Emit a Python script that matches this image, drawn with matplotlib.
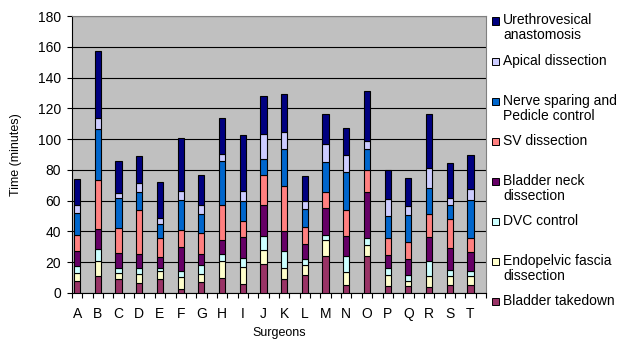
import matplotlib
matplotlib.use("Agg")
import matplotlib.pyplot as plt
from matplotlib.patches import Rectangle
import numpy as np

plt.rcParams['font.family'] = ['Liberation Sans', 'DejaVu Sans']

surgeons = list("ABCDEFGHIJKLMNOPQRST")

# Minutes spent in each operative step, per surgeon (bottom to top of the stack)
bladder_takedown = [7.5, 11, 9, 6.5, 9, 2.5, 7, 10, 6, 19, 9, 12, 24, 5.5, 24, 4.5, 4.5, 4, 5.5, 5]
endopelvic_fascia = [5.5, 10, 4, 6, 5.5, 8, 5.5, 10.5, 11, 9, 7.5, 6.5, 10.5, 8, 7, 7, 3.5, 7, 5.5, 6]
dvc_control = [4.5, 7.5, 3, 4, 2, 3.5, 5.5, 5, 6, 9, 10.5, 3.5, 3, 10.5, 4.5, 4.5, 3.5, 10, 4, 3.5]
bladder_neck = [10, 13, 10, 9, 7, 16, 7.5, 9, 13.5, 20.5, 13, 10, 18, 13, 30, 9, 10.5, 15.5, 14, 12]
sv_dissection = [10.5, 32, 16.5, 28.5, 12.5, 11, 13.5, 23, 10.5, 19.5, 29.5, 11, 10, 17, 14.5, 11, 11, 15, 19, 9]
nerve_sparing = [14, 33, 19, 11.5, 9, 19.5, 12.5, 28, 12.5, 10, 24, 11.5, 19.5, 24.5, 13.5, 14, 17.5, 16.5, 9.5, 25]
apical_dissection = [5, 7, 3.5, 6, 4, 5.5, 5.5, 5, 7, 16.5, 11, 5, 12, 11, 5, 11, 6, 13.5, 4.5, 7]
urethrovesical = [17, 43.5, 20.5, 17.5, 23, 35, 19.5, 23, 36, 24.5, 24.5, 16.5, 19.5, 17.5, 32.5, 19, 18.5, 35, 22.5, 22.5]

steps = [
    ("Bladder takedown", bladder_takedown, "#993366"),
    ("Endopelvic fascia\ndissection", endopelvic_fascia, "#FFFFCC"),
    ("DVC control", dvc_control, "#CCFFFF"),
    ("Bladder neck\ndissection", bladder_neck, "#660066"),
    ("SV dissection", sv_dissection, "#FF8080"),
    ("Nerve sparing and\nPedicle control", nerve_sparing, "#0066CC"),
    ("Apical dissection", apical_dissection, "#CCCCFF"),
    ("Urethrovesical\nanastomosis", urethrovesical, "#000080"),
]

W, H = 627, 342
fig = plt.figure(figsize=(W / 100, H / 100), dpi=100)
ax = fig.add_axes([72 / W, 1 - 293 / H, 414 / W, 277 / H])
ax.set_facecolor("#C0C0C0")

# each surgeon occupies every other slot on the category axis
x = np.arange(len(surgeons)) * 2
bottom = np.zeros(len(surgeons))
for name, vals, color in steps:
    vals = np.array(vals)
    ax.bar(x, vals, bottom=bottom, width=0.6, color=color,
           edgecolor="black", linewidth=0.8, zorder=3)
    bottom += vals

ax.set_xlim(-0.5, 2 * len(surgeons) - 0.5)
ax.set_ylim(0, 180)
ax.set_yticks(np.arange(0, 181, 20))
ax.yaxis.grid(True, color="black", linewidth=0.8, zorder=1)
ax.set_axisbelow(True)

ax.set_xticks(x)
ax.set_xticklabels(surgeons, fontsize=10)
ax.set_xticks(np.arange(-0.5, 2 * len(surgeons)), minor=True)
ax.tick_params(axis="x", which="major", length=0, pad=10)
ax.tick_params(axis="x", which="minor", length=3.5, width=0.8, color="black")
ax.tick_params(axis="y", length=3.5, width=0.8, labelsize=10, pad=4.5)

for side in ("left", "bottom"):
    ax.spines[side].set_color("black")
    ax.spines[side].set_linewidth(0.8)
for side in ("top", "right"):
    ax.spines[side].set_color("#808080")
    ax.spines[side].set_linewidth(0.8)

ax.set_xlabel("Surgeons", fontsize=9, labelpad=4.5)
ax.set_ylabel("Time (minutes)", fontsize=9, labelpad=11)

# legend on the right, top entry = top of the stack
for i, (name, vals, color) in enumerate(reversed(steps)):
    cy = 21 + 40.1 * i
    s = 7
    fig.add_artist(Rectangle(((495 - s / 2) / W, 1 - (cy + s / 2) / H), s / W, s / H,
                             transform=fig.transFigure, facecolor=color,
                             edgecolor="black", linewidth=0.7))
    fig.text(503 / W, 1 - (cy - 7.5) / H, name, fontsize=10, va="top", ha="left",
             linespacing=1.08)

fig.savefig("out.png", dpi=100)
